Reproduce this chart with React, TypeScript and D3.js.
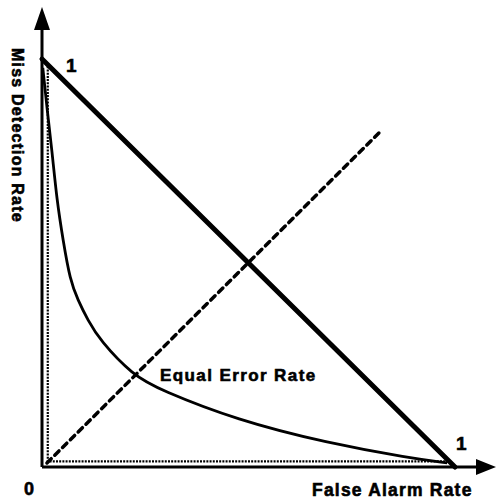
import React from "react";
import * as d3 from "d3";

const W = 496;
const H = 500;

// Normalised detection-error-tradeoff curve (false alarm rate, miss detection rate)
const curveFA = [0.002, 0.012, 0.024, 0.036, 0.051, 0.068, 0.087, 0.111, 0.14, 0.22, 0.286, 0.472, 0.69, 0.891, 0.981];
const curveMiss = [0.978, 0.88, 0.777, 0.654, 0.556, 0.458, 0.409, 0.36, 0.311, 0.225, 0.189, 0.115, 0.059, 0.022, 0.01];

const diagFA = [0, 1];
const diagMiss = [1, 0];

const eerFA = [0.012, 0.823];
const eerMiss = [0.01, 0.826];

const boundFA = [0.014, 0.014, 0.99];
const boundMiss = [0.99, 0.014, 0.014];

const xLabel = "False Alarm Rate";
const yLabel = "Miss Detection Rate";
const eerLabel = "Equal Error Rate";

export default function App() {
  const x = d3.scaleLinear().domain([0, 1]).range([42, 455]);
  const y = d3.scaleLinear().domain([0, 1]).range([467, 59]);

  const line = d3
    .line<[number, number]>()
    .x((d) => x(d[0]))
    .y((d) => y(d[1]));
  const smooth = d3
    .line<[number, number]>()
    .x((d) => x(d[0]))
    .y((d) => y(d[1]))
    .curve(d3.curveBasis);

  const zip = (a: number[], b: number[]) => a.map((v, i) => [v, b[i]] as [number, number]);

  const font = "Arial, 'Liberation Sans', sans-serif";
  const ox = x(0);
  const oy = y(0);
  const heavy = { stroke: "#000", strokeWidth: 0.6 };

  return (
    <svg
      width={W}
      height={H}
      style={{ position: "absolute", left: 0, top: 0, background: "#fff" }}
    >
      {/* axes */}
      <line x1={ox} y1={oy} x2={ox} y2={28} stroke="#000" strokeWidth={3} />
      <polygon points={`${ox},7 ${ox - 8},30 ${ox + 8},30`} fill="#000" />
      <line x1={ox} y1={oy} x2={478} y2={oy} stroke="#000" strokeWidth={3} />
      <polygon points={`496,${oy} 476,${oy - 8} 476,${oy + 8}`} fill="#000" />

      {/* dotted boundary */}
      <path
        d={line(zip(boundFA, boundMiss)) || ""}
        fill="none"
        stroke="#000"
        strokeWidth={2.2}
        strokeDasharray="2 1.2"
      />

      {/* EER dashed diagonal */}
      <path
        d={line(zip(eerFA, eerMiss)) || ""}
        fill="none"
        stroke="#000"
        strokeWidth={3.5}
        strokeDasharray="6 5"
        strokeLinecap="round"
      />

      {/* chance diagonal */}
      <path
        d={line(zip(diagFA, diagMiss)) || ""}
        fill="none"
        stroke="#000"
        strokeWidth={5}
        strokeLinecap="round"
      />

      {/* DET curve */}
      <path
        d={smooth(zip(curveFA, curveMiss)) || ""}
        fill="none"
        stroke="#000"
        strokeWidth={2.8}
      />

      {/* labels */}
      <text x={66} y={72} fontFamily={font} fontWeight="bold" fontSize={19} {...heavy}>1</text>
      <text x={456} y={450} fontFamily={font} fontWeight="bold" fontSize={19} {...heavy}>1</text>
      <text x={24} y={495} fontFamily={font} fontWeight="bold" fontSize={18} {...heavy}>0</text>
      <text
        x={312}
        y={496}
        fontFamily={font}
        fontWeight="bold"
        fontSize={17.5}
        letterSpacing={1.2}
        {...heavy}
      >
        {xLabel}
      </text>
      <text
        x={160}
        y={381}
        fontFamily={font}
        fontWeight="bold"
        fontSize={17}
        letterSpacing={1.4}
        {...heavy}
      >
        {eerLabel}
      </text>
      <text
        transform="translate(12,48) rotate(90)"
        fontFamily={font}
        fontWeight="bold"
        fontSize={16}
        letterSpacing={1.2}
        {...heavy}
      >
        {yLabel}
      </text>
    </svg>
  );
}
